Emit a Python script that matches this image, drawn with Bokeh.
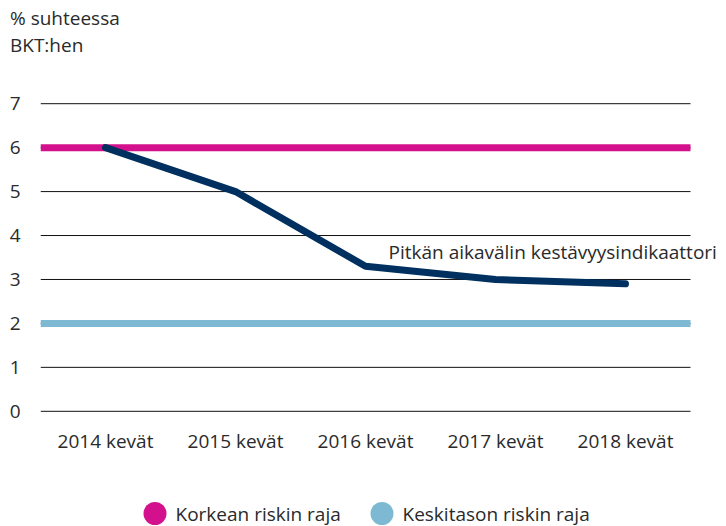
from bokeh.plotting import figure
from bokeh.layouts import column
from bokeh.models import Label, FixedTicker, Range1d, Div
from bokeh.core.properties import value
from bokeh.embed import file_html
from bokeh.resources import INLINE

categories = ["2014 kevät", "2015 kevät", "2016 kevät", "2017 kevät", "2018 kevät"]
indicator = [6.0, 5.0, 3.3, 3.0, 2.9]
high_risk = 6.0
medium_risk = 2.0
y_ticks = [0, 1, 2, 3, 4, 5, 6, 7]
legend_labels = ["Korkean riskin raja", "Keskitason riskin raja"]
y_title = ["% suhteessa", "BKT:hen"]

FONT = "Open Sans"
FS = "19px"
PINK = "#d4118c"
BLUE = "#7eb9d3"
NAVY = "#00305f"
TXT = "#2a2a2a"

xi = list(range(len(categories)))
x_lo, x_hi = xi[0] - 0.5, xi[-1] + 0.5

title_div = Div(text="<br>".join(y_title), width=726, height=60, margin=0,
                styles={"font-family": FONT, "font-size": FS, "line-height": "27px",
                        "color": TXT, "padding-top": "5px", "padding-left": "10px"})

p = figure(width=726, height=410, x_range=Range1d(x_lo, x_lo + 686 / 130),
           y_range=Range1d(-0.05, 7.05),
           output_backend="svg", toolbar_location=None,
           min_border_left=40, min_border_right=0, min_border_top=41, min_border_bottom=57)
p.outline_line_color = None
p.xgrid.grid_line_color = None
p.ygrid.grid_line_color = None
p.xaxis.ticker = FixedTicker(ticks=xi)
p.xaxis.major_label_overrides = {i: c for i, c in zip(xi, categories)}
p.yaxis.ticker = FixedTicker(ticks=y_ticks)
for ax in (p.xaxis, p.yaxis):
    ax.axis_line_color = None
    ax.major_tick_line_color = None
    ax.minor_tick_line_color = None
    ax.major_tick_out = 0
    ax.major_tick_in = 0
    ax.minor_tick_out = 0
    ax.major_label_text_font = FONT
    ax.major_label_text_font_size = FS
    ax.major_label_text_color = TXT
p.xaxis.major_label_standoff = 14
p.yaxis.major_label_standoff = 20

# horizontal gridlines limited to the category span
p.segment(x0=[x_lo] * len(y_ticks), x1=[x_hi] * len(y_ticks), y0=y_ticks, y1=y_ticks,
          line_color="#111111", line_width=1)
# risk thresholds
p.segment(x0=[x_lo, x_lo], x1=[x_hi, x_hi], y0=[high_risk, medium_risk], y1=[high_risk, medium_risk],
          line_color=[PINK, BLUE], line_width=7)

p.line(xi, indicator, line_color=NAVY, line_width=7, line_cap="round", line_join="round")

p.add_layout(Label(x=categories.index("2016 kevät"), y=3.63, x_offset=23,
                   text="Pitkän aikavälin kestävyysindikaattori",
                   text_font=FONT, text_font_size=FS, text_color=TXT, text_baseline="middle"))

# legend strip
lg = figure(width=726, height=56, x_range=Range1d(40, 726), y_range=Range1d(0, 56),
            output_backend="svg", toolbar_location=None, x_axis_type=None, y_axis_type=None,
            min_border_left=40, min_border_right=0, min_border_top=0, min_border_bottom=0)
lg.outline_line_color = None
lg.xgrid.grid_line_color = None
lg.ygrid.grid_line_color = None
dot_x = [154.5, 381.5]
text_x = [175, 402]
lg.scatter(dot_x, [13, 13], marker="circle", size=23, color=[PINK, BLUE], line_color=None)
lg.text(text_x, [13, 13], text=legend_labels, text_font=value(FONT), text_font_size=FS,
        text_color=TXT, text_baseline="middle")

open("out.html", "w").write(file_html(column(title_div, p, lg, spacing=0), INLINE))
